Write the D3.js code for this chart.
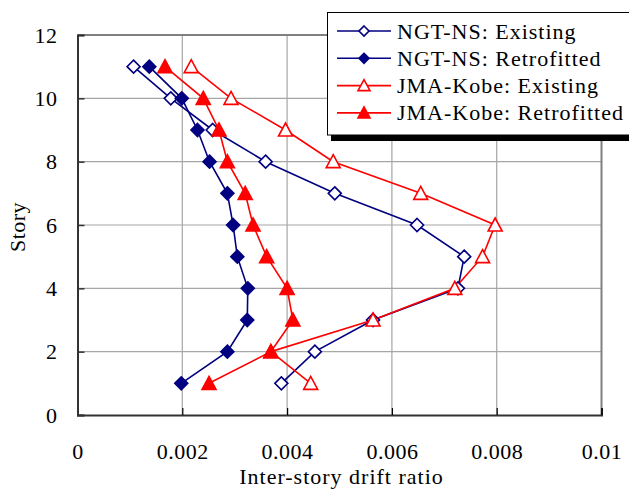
<!DOCTYPE html>
<html><head><meta charset="utf-8">
<script src="https://cdn.jsdelivr.net/npm/d3@7"></script>
<style>body{margin:0;background:#fff}svg{display:block}text{font-family:"Liberation Serif","Times New Roman",serif;fill:#000}</style>
</head><body>
<svg id="c" width="629" height="490"></svg>
<script>
const stories = [11,10,9,8,7,6,5,4,3,2,1];
const ngtExisting    = [0.00107,0.00178,0.00258,0.00359,0.00491,0.00648,0.00738,0.00726,0.00564,0.00453,0.00389];
const ngtRetrofitted = [0.00137,0.00199,0.00229,0.00252,0.00286,0.00297,0.00305,0.00325,0.00324,0.00286,0.00198];
const jmaExisting    = [0.00217,0.00293,0.00397,0.00488,0.00655,0.00797,0.00773,0.00720,0.00564,0.00369,0.00445];
const jmaRetrofitted = [0.00167,0.00240,0.00270,0.00286,0.00320,0.00335,0.00361,0.00400,0.00411,0.00369,0.00251];
const xTicks = [0,0.002,0.004,0.006,0.008,0.01];
const xTickLabels = ["0","0.002","0.004","0.006","0.008","0.01"];
const yTicks = [0,2,4,6,8,10,12];
const seriesNames = ["NGT-NS: Existing","NGT-NS: Retrofitted","JMA-Kobe: Existing","JMA-Kobe: Retrofitted"];

const series = [
  {name:seriesNames[0], values:ngtExisting, color:"#000080", shape:"diamond", filled:false},
  {name:seriesNames[1], values:ngtRetrofitted, color:"#000080", shape:"diamond", filled:true},
  {name:seriesNames[2], values:jmaExisting, color:"#ff0000", shape:"triangle", filled:false},
  {name:seriesNames[3], values:jmaRetrofitted, color:"#ff0000", shape:"triangle", filled:true}
];

const svg = d3.select("#c");
const L=77.5, R=601.5, T=35, B=415;
const x = d3.scaleLinear().domain([0,0.01]).range([L,R]);
const y = d3.scaleLinear().domain([0,12]).range([B,T]);

// gridlines
const g = svg.append("g");
g.selectAll(".gx").data(xTicks.slice(1,-1)).join("line")
  .attr("x1",d=>x(d)).attr("x2",d=>x(d)).attr("y1",T).attr("y2",B)
  .attr("stroke","#a6a6a6").attr("stroke-width",1.2);
g.selectAll(".gy").data(yTicks.slice(1,-1)).join("line")
  .attr("x1",L).attr("x2",R).attr("y1",d=>y(d)).attr("y2",d=>y(d))
  .attr("stroke","#a6a6a6").attr("stroke-width",1.2);
// top & right border
svg.append("line").attr("x1",L).attr("x2",R).attr("y1",T).attr("y2",T).attr("stroke","#808080").attr("stroke-width",2);
svg.append("line").attr("x1",R).attr("x2",R).attr("y1",T).attr("y2",B).attr("stroke","#808080").attr("stroke-width",2);

// axes
const xAxis = d3.axisBottom(x).tickValues(xTicks).tickFormat((d,i)=>xTickLabels[i]).tickSize(-7).tickPadding(28);
const ax = svg.append("g").attr("transform",`translate(0,${B})`).call(xAxis);
ax.select(".domain").attr("stroke","#333").attr("stroke-width",2);
ax.selectAll(".tick line").attr("stroke","#000").attr("stroke-width",1.2);
ax.selectAll("text").attr("font-size",22).attr("font-family","Liberation Serif").attr("fill","#000").attr("letter-spacing","0.5px");

const yAxis = d3.axisLeft(y).tickValues(yTicks).tickSize(-7).tickPadding(20);
const ay = svg.append("g").attr("transform",`translate(${L},0)`).call(yAxis);
ay.select(".domain").attr("stroke","#333").attr("stroke-width",2);
ay.selectAll(".tick line").attr("stroke","#333").attr("stroke-width",1.5);
ay.selectAll("text").attr("font-size",22).attr("font-family","Liberation Serif").attr("fill","#000").attr("letter-spacing","0.5px");

svg.append("text").attr("x",(L+R)/2+2).attr("y",484).attr("text-anchor","middle").attr("font-size",22).attr("letter-spacing","1px").text("Inter-story drift ratio");
svg.append("text").attr("transform","translate(25,227) rotate(-90)").attr("text-anchor","middle").attr("font-size",22).attr("letter-spacing","0.5px").text("Story");

// series
const line = d3.line().x(d=>x(d.v)).y(d=>y(d.s));
function drawMarker(sel, shape, filled, color){
  if(shape==="diamond"){
    sel.append("path").attr("d","M0,-6.5L6.5,0L0,6.5L-6.5,0Z")
      .attr("fill",filled?color:"#fff").attr("stroke",color).attr("stroke-width",1.6);
  } else {
    sel.append("path").attr("d","M0,-7L7,6L-7,6Z")
      .attr("fill",filled?color:"#fff").attr("stroke",color).attr("stroke-width",1.6);
  }
}
series.forEach(s=>{
  const pts = stories.map((st,i)=>({s:st,v:s.values[i]}));
  svg.append("path").datum(pts).attr("d",line).attr("fill","none").attr("stroke",s.color).attr("stroke-width",1.6);
});
series.forEach(s=>{
  const pts = stories.map((st,i)=>({s:st,v:s.values[i]}));
  svg.append("g").selectAll("g").data(pts).join("g")
    .attr("transform",d=>`translate(${x(d.v)},${y(d.s)})`)
    .each(function(){drawMarker(d3.select(this), s.shape, s.filled, s.color);});
});

// legend
const lg = svg.append("g");
lg.append("rect").attr("x",331).attr("y",17).attr("width",310).attr("height",124).attr("fill","#000");
lg.append("rect").attr("x",327.5).attr("y",12.5).attr("width",310).attr("height",122.5).attr("fill","#fff").attr("stroke","#000").attr("stroke-width",1);
series.forEach((s,i)=>{
  const yy = 31 + i*27.3;
  lg.append("line").attr("x1",337).attr("x2",391).attr("y1",yy).attr("y2",yy).attr("stroke",s.color).attr("stroke-width",1.6);
  const m = lg.append("g").attr("transform",`translate(364,${yy})`);
  if(s.shape==="diamond"){
    m.append("path").attr("d","M0,-5L5,0L0,5L-5,0Z").attr("fill",s.filled?s.color:"#fff").attr("stroke",s.color).attr("stroke-width",1.6);
  } else {
    m.append("path").attr("d","M0,-6L6,5L-6,5Z").attr("fill",s.filled?s.color:"#fff").attr("stroke",s.color).attr("stroke-width",1.6);
  }
  lg.append("text").attr("x",397).attr("y",yy+7.5).attr("font-size",22).attr("letter-spacing","1px").text(s.name);
});
</script>
</body></html>
